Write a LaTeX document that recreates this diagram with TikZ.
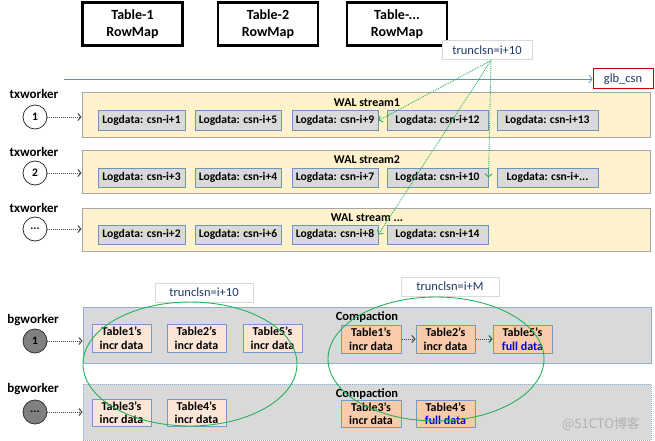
\documentclass[tikz,border=0pt]{standalone}
\usepackage{fontspec}
\setmainfont{Carlito}
\newfontfamily\cjkfont{Noto Sans CJK SC}
\usetikzlibrary{arrows.meta}
\definecolor{walfill}{HTML}{FFF2CC}
\definecolor{walborder}{HTML}{A6A6A6}
\definecolor{logfill}{HTML}{D9D9D9}
\definecolor{logborder}{HTML}{6F93BD}
\definecolor{bgfill}{HTML}{D9D9D9}
\definecolor{bgborder}{HTML}{8EAFD8}
\definecolor{lightt}{HTML}{FBE5D6}
\definecolor{darkt}{HTML}{F8CBAD}
\definecolor{tblborder}{HTML}{6F9ACB}
\definecolor{grn}{HTML}{22B35A}
\definecolor{navy}{HTML}{1F3864}
\definecolor{lineblue}{HTML}{5B8FC7}
\definecolor{redb}{HTML}{C00000}
\definecolor{fullblue}{HTML}{0000CC}
\begin{document}
\begin{tikzpicture}[x=1pt,y=-1pt,
  rowmap/.style={draw=black, line width=2.5pt, fill=white, inner sep=0, align=center,
    minimum width=100pt, minimum height=43pt, font=\bfseries\fontsize{14}{17}\selectfont},
  logbox/.style={draw=logborder, line width=1pt, fill=logfill, inner sep=0,
    minimum height=19pt, font=\bfseries\fontsize{11.6}{12}\selectfont},
  walbox/.style={draw=walborder, line width=1pt, fill=walfill, inner sep=0, minimum width=568pt},
  wkr/.style={circle, draw=black!80, line width=0.8pt, fill=white, minimum size=24pt, inner sep=0,
    font=\bfseries\fontsize{11.5}{12}\selectfont},
  bgwkr/.style={wkr, fill=black!50},
  lbl/.style={font=\bfseries\fontsize{13}{14}\selectfont, inner sep=0},
  ttl/.style={font=\bfseries\fontsize{12}{13}\selectfont, inner sep=0},
  dotarrow/.style={draw=black!75, line width=1pt, densely dotted, -{Straight Barb[length=3pt,width=7pt]}},
  greenarrow/.style={draw=grn, line width=0.9pt, densely dotted, -{Straight Barb[length=3pt,width=7pt]}},
  tbl/.style={draw=tblborder, line width=1pt, inner sep=0, minimum width=59pt, minimum height=28pt,
    align=center, font=\bfseries\fontsize{12}{13.5}\selectfont},
  trunc/.style={draw=black!15, line width=1pt, fill=white, inner sep=0, minimum height=19pt,
    text=navy, font=\fontsize{12.5}{14}\selectfont},
  bgbox/.style={draw=bgborder, line width=1pt, fill=bgfill, inner sep=0, minimum width=568pt, minimum height=56pt}
]
\useasboundingbox (0,0) rectangle (655,441);

% RowMaps
\node[rowmap] (rm1) at (132.5,24) {Table-1\\RowMap};
\node[rowmap] (rm2) at (268,24) {Table-2\\RowMap};
\node[rowmap] (rm3) at (397,24) {Table-...\\RowMap};

% trunc lsn top
\node[trunc, minimum width=90pt] (tr) at (487,50.5) {trunclsn=i+10};

% glb_csn
\node[draw=redb, line width=1pt, fill=white, inner sep=0, minimum width=60pt, minimum height=20pt,
  text=navy, font=\fontsize{12.5}{14}\selectfont] (glb) at (623,79) {glb\_csn};
\coordinate (ls) at (64,79);
\draw[lineblue, line width=0.8pt, -{Straight Barb[length=3pt,width=8pt]}] (ls) -- (glb.west);

% WAL streams
\node[walbox, minimum height=44pt] (w1) at (366,115) {};
\node[walbox, minimum height=43pt] (w2) at (366,171.5) {};
\node[walbox, minimum height=43pt] (w3) at (366,229.5) {};
\node[ttl] (wt1) at (367,103) {WAL stream1};
\node[ttl] (wt2) at (367,160) {WAL stream2};
\node[ttl] (wt3) at (367,218) {WAL stream ...};

% row 1
\node[logbox, minimum width=87pt] (l11) at (141.5,120.5) {Logdata: csn-i+1};
\node[logbox, minimum width=86pt] (l12) at (238,120.5) {Logdata: csn-i+5};
\node[logbox, minimum width=86pt] (l13) at (335,120.5) {Logdata: csn-i+9};
\node[logbox, minimum width=101pt] (l14) at (437.5,120.5) {Logdata: csn-i+12};
\node[logbox, minimum width=101pt] (l15) at (547.5,120.5) {Logdata: csn-i+13};
% row 2
\node[logbox, minimum width=87pt] (l21) at (141.5,177.5) {Logdata: csn-i+3};
\node[logbox, minimum width=86pt] (l22) at (238,177.5) {Logdata: csn-i+4};
\node[logbox, minimum width=86pt] (l23) at (335,177.5) {Logdata: csn-i+7};
\node[logbox, minimum width=101pt] (l24) at (437.5,177.5) {Logdata: csn-i+10};
\node[logbox, minimum width=101pt] (l25) at (547.5,177.5) {Logdata: csn-i+...};
% row 3
\node[logbox, minimum width=87pt] (l31) at (141.5,234.5) {Logdata: csn-i+2};
\node[logbox, minimum width=86pt] (l32) at (238,234.5) {Logdata: csn-i+6};
\node[logbox, minimum width=86pt] (l33) at (335,234.5) {Logdata: csn-i+8};
\node[logbox, minimum width=101pt] (l34) at (437.5,234.5) {Logdata: csn-i+14};

% txworkers
\node[lbl] (tl1) at (34,94) {txworker};
\node[lbl] (tl2) at (34,152) {txworker};
\node[lbl] (tl3) at (34,208) {txworker};
\node[wkr] (t1) at (35,117) {1};
\node[wkr] (t2) at (35,173) {2};
\node[wkr] (t3) at (35,229) {...};
\draw[dotarrow] (t1) -- (t1 -| w1.west);
\draw[dotarrow] (t2) -- (t2 -| w2.west);
\draw[dotarrow] (t3) -- (t3 -| w3.west);

% green arrows
\draw[greenarrow] ([xshift=4pt]tr.south) -- (l13.east);
\draw[greenarrow] ([xshift=4pt]tr.south) -- (l33.east);
\draw[greenarrow] ([xshift=4pt]tr.south) -- (l24.east);

% background workers
\node[bgbox] (b1) at (367,335) {};
\node[bgbox, draw=bgborder, densely dotted] (b2) at (367,412) {};

\node[lbl] (bl1) at (33,320) {bgworker};
\node[lbl] (bl2) at (33,389) {bgworker};
\node[bgwkr] (g1) at (35,341) {1};
\node[bgwkr] (g2) at (35,412) {...};
\draw[dotarrow] (g1) -- (g1 -| b1.west);
\draw[dotarrow] (g2) -- (g2 -| b2.west);

\node[trunc, minimum width=98pt] (trb1) at (204,292.5) {trunclsn=i+10};
\node[trunc, minimum width=98pt] (trb2) at (450,286.5) {trunclsn=i+M};

% incr tables
\node[tbl, fill=lightt] (a1) at (121.5,338) {Table1's\\incr data};
\node[tbl, fill=lightt] (a2) at (196.5,338) {Table2's\\incr data};
\node[tbl, fill=lightt] (a5) at (272.5,338) {Table5's\\incr data};
\node[tbl, fill=lightt, minimum height=27pt] (a3) at (121.5,412.5) {Table3's\\incr data};
\node[tbl, fill=lightt, minimum height=27pt] (a4) at (196.5,412.5) {Table4's\\incr data};

% compaction
\node[ttl, font=\bfseries\fontsize{12.5}{14}\selectfont] (cp1) at (367,317) {Compaction};
\node[ttl, font=\bfseries\fontsize{12.5}{14}\selectfont] (cp2) at (367,394) {Compaction};
\node[tbl, fill=darkt, minimum width=60pt] (c1) at (371,339) {Table1's\\incr data};
\node[tbl, fill=darkt] (c2) at (445.5,339) {Table2's\\incr data};
\node[tbl, fill=darkt] (c5) at (522.5,339) {Table5's\\\textcolor{fullblue}{full data}};
\node[tbl, fill=darkt, minimum width=60pt, minimum height=27pt] (c3) at (371,413.5) {Table3's\\incr data};
\node[tbl, fill=darkt, minimum height=27pt] (c4) at (445.5,413.5) {Table4's\\\textcolor{fullblue}{full data}};
\draw[dotarrow] (c1) -- (c2);
\draw[dotarrow] (c2) -- (c5);

% ellipses
\draw[grn, line width=0.9pt] (190,364) ellipse [x radius=107pt, y radius=62pt];
\draw[grn, line width=0.9pt] (436,359) ellipse [x radius=108pt, y radius=62pt];

% watermark
\node[text=black!30, font=\cjkfont\fontsize{13}{14}\selectfont, inner sep=0] (wm) at (601,424) {@51CTO博客};
\end{tikzpicture}
\end{document}
